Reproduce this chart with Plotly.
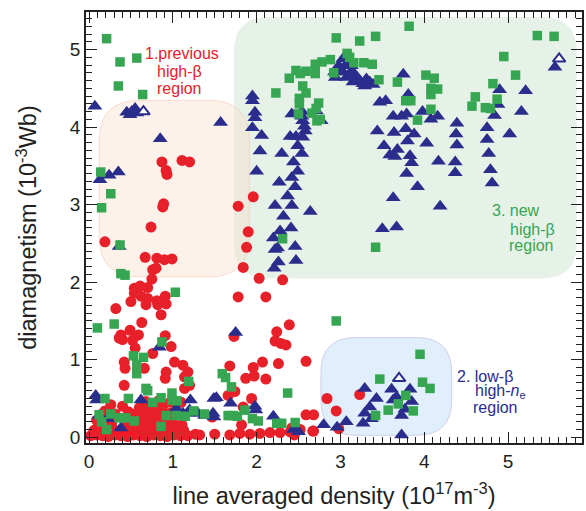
import plotly.graph_objects as go

# ---- data (line averaged density [1e17 m^-3], diamagnetism [1e-3 Wb]) ----
red_x = [0.87, 0.92, 0.93, 1.11, 1.20, 0.89, 0.88, 0.74, 0.19, 1.78, 1.96, 1.90, 1.88,
         0.67, 0.81, 0.90, 0.99, 0.80, 0.76, 0.75,
         0.54, 0.61, 0.70, 0.54, 0.50, 0.62, 0.70, 0.81, 0.91, 0.92, 0.82, 0.68,
         0.32, 0.86, 0.63, 0.49, 0.59, 0.38, 0.36, 0.52, 0.40, 0.91, 0.98, 0.76, 0.55,
         1.02, 1.12, 1.18, 1.14, 1.20, 1.14, 0.92, 0.91, 0.42, 0.43, 0.66, 0.42, 0.26, 0.40,
         1.84, 2.03, 2.31, 1.78, 2.11, 2.39, 2.24, 2.22, 2.29, 2.35, 1.73,
         2.07, 1.96, 2.26, 2.59, 1.68, 1.87, 1.97, 2.11, 1.66, 1.74, 1.94, 1.84,
         2.84, 2.95, 2.59, 2.68, 1.82, 1.47, 3.23, 2.98, 2.68,
         1.32, 1.50, 1.68, 1.80, 1.92, 2.04, 2.16, 2.28, 2.40, 2.52, 2.67, 2.45, 2.42,
         0.02, 0.09, 0.16, 0.23, 0.31, 0.38, 0.46, 0.53, 0.61, 0.69, 0.77, 0.85, 0.93, 1.01, 1.09, 1.18, 1.27,
         0.06, 0.19, 0.33, 0.48, 0.58, 0.66, 0.73, 0.81, 0.88, 0.96, 1.04, 1.13,
         0.11, 0.27, 0.44, 0.56, 0.64, 0.71, 0.79, 0.86, 0.94, 1.03, 1.11,
         0.09, 0.25, 0.51, 0.62, 0.70, 0.77, 0.84, 0.92, 1.00,
         0.31, 0.57, 0.66, 0.74, 0.82, 0.90, 0.97,
         0.60, 0.71, 0.79, 0.88, 0.68, 0.83, 0.97,
         0.19, 0.47, 1.10, 1.05]
red_y = [3.55, 3.44, 3.39, 3.57, 3.55, 3.01, 2.97, 2.71, 2.52, 2.98, 3.10, 2.65, 2.45,
         2.32, 2.31, 2.29, 2.30, 2.18, 2.16, 2.04,
         1.92, 1.95, 1.93, 1.86, 1.75, 1.82, 1.79, 1.76, 1.82, 1.72, 1.71, 1.71,
         1.66, 1.58, 1.48, 1.38, 1.32, 1.32, 1.28, 1.25, 1.26, 1.31, 1.17, 1.08, 1.15,
         0.97, 0.93, 0.84, 0.78, 0.67, 0.63, 0.84, 0.76, 0.97, 0.89, 0.89, 0.67, 0.42, 0.40,
         2.19, 2.05, 2.03, 1.81, 1.81, 1.45, 1.36, 1.24, 1.21, 1.19, 1.30,
         0.97, 0.90, 0.95, 0.98, 0.92, 0.76, 0.79, 0.75, 0.54, 0.59, 0.50, 0.39,
         0.50, 0.34, 0.29, 0.29, 0.16, 0.26, 0.55, 0.11, 0.08,
         0.03, 0.04, 0.03, 0.05, 0.04, 0.05, 0.06, 0.06, 0.07, 0.10, 0.08, 0.03, 0.12,
         0.02, 0.03, 0.02, 0.01, 0.03, 0.02, 0.01, 0.03, 0.02, 0.01, 0.03, 0.02, 0.01, 0.03, 0.02, 0.02, 0.04,
         0.09, 0.07, 0.08, 0.09, 0.07, 0.10, 0.08, 0.09, 0.07, 0.10, 0.08, 0.09,
         0.15, 0.17, 0.14, 0.16, 0.15, 0.17, 0.14, 0.16, 0.15, 0.13, 0.16,
         0.22, 0.24, 0.21, 0.23, 0.22, 0.24, 0.21, 0.23, 0.22,
         0.30, 0.31, 0.29, 0.32, 0.30, 0.28, 0.31,
         0.38, 0.39, 0.37, 0.40, 0.46, 0.47, 0.45,
         0.34, 0.33, 0.45, 0.30]

green_x = [0.21, 0.37, 0.57, 0.35, 0.64, 0.14, 0.26, 0.15, 0.37, 0.38, 0.43, 1.03, 0.10, 0.30,
           0.87, 0.53, 0.65, 0.57, 0.57, 1.19, 0.68, 0.70, 0.19, 0.47, 0.76, 0.86, 0.99, 0.99,
           1.05, 0.12, 0.26, 0.36, 0.44, 0.54, 0.15, 0.21, 0.86, 0.92, 1.04, 1.15, 1.25, 1.38,
           1.59, 1.63, 1.70, 1.66, 1.72, 1.77, 1.86, 1.95, 2.02, 2.24, 2.30, 2.37, 2.46, 2.31,
           2.95, 3.42, 3.95, 3.47, 3.98, 4.07, 3.78, 3.69, 3.57, 3.87, 3.42,
           2.95, 2.23, 2.39, 2.47, 2.52, 2.59, 2.70, 2.78, 2.88, 2.70, 2.92, 2.55, 2.59, 2.51,
           2.51, 2.74, 2.71, 2.66, 2.50, 2.72, 2.76,
           3.23, 3.42, 3.82, 3.08, 3.11, 3.16, 3.28, 3.38, 3.46, 3.68, 4.02, 4.12, 4.08, 4.16,
           4.08, 3.78, 3.84, 4.08, 3.92,
           4.95, 5.09, 4.82, 4.61, 4.57, 4.73, 4.79, 4.87, 5.35, 5.55]
green_y = [5.14, 4.84, 4.89, 4.53, 4.42, 3.42, 3.14, 2.96, 2.48, 2.11, 2.09, 1.87, 1.41, 1.46,
           1.23, 1.05, 1.03, 0.94, 0.82, 0.72, 0.63, 0.60, 0.50, 0.50, 0.45, 0.51, 0.57, 0.48,
           0.47, 0.29, 0.30, 0.25, 0.25, 0.21, 0.20, 0.10, 0.14, 0.28, 0.28, 0.27, 0.34, 0.30,
           0.82, 0.77, 0.65, 0.28, 0.28, 0.27, 0.35, 0.24, 0.21, 0.18, 0.18, 0.57, 0.19, 2.56,
           1.50, 2.45, 1.07, 0.75, 0.71, 0.63, 0.54, 0.43, 0.35, 0.34, 0.28,
           5.15, 4.44, 4.63, 4.73, 4.69, 4.72, 4.81, 4.84, 4.87, 4.69, 4.70, 4.53, 4.44, 4.37,
           4.30, 4.31, 4.24, 4.18, 4.17, 4.08, 4.10,
           5.11, 5.17, 5.30, 4.95, 4.90, 4.83, 4.83, 4.81, 4.61, 4.58, 4.67, 4.63, 4.50, 4.49,
           4.42, 4.34, 4.34, 4.23, 4.09,
           4.91, 4.67, 4.56, 4.39, 4.27, 4.25, 4.24, 4.36, 5.18, 5.17]

blue_x = [0.07, 0.45, 0.51, 0.55, 0.57, 0.49, 0.85, 1.57, 0.13, 0.24, 0.35, 0.36,
          1.95, 1.95, 1.98, 1.98, 1.95, 2.06, 2.04, 2.00, 2.30, 2.42, 2.40, 2.47, 2.55, 2.44,
          2.27, 2.42, 2.37, 2.22, 2.42, 2.32, 2.28, 2.41, 2.20, 2.25, 2.46, 2.22, 2.49, 2.54,
          2.49, 2.46, 2.64,
          2.54, 2.54, 2.55, 2.57, 2.58, 2.77, 2.71, 2.94, 2.98, 2.98,
          3.03, 3.07, 3.13, 2.99, 2.93, 3.03, 3.07, 3.13, 3.17, 3.20, 3.15, 3.23, 3.27, 3.31,
          3.35, 3.39, 3.29,
          3.75, 3.81, 3.47, 3.54, 3.63, 3.73, 3.79, 3.44, 3.64, 3.78, 3.88, 3.80, 3.52, 3.68,
          3.59, 3.65, 3.83, 3.85, 3.79, 3.92, 3.63, 3.50, 3.67,
          3.98, 4.08, 4.16, 4.03, 4.17, 4.19,
          4.39, 4.38, 4.39, 4.37, 4.37, 4.75, 4.75, 4.77, 4.79, 4.81,
          4.90, 4.88, 4.84, 5.02, 5.16, 5.21, 5.56, 2.21, 2.26, 2.47,
          1.75, 0.84, 0.08, 0.09, 0.38, 0.62, 1.21, 1.52, 1.69, 1.98, 1.99, 1.48, 1.49, 2.20,
          2.44, 2.50, 2.80, 2.96, 1.30, 1.12, 1.04, 1.20, 1.28, 1.38, 1.49, 0.12, 0.22,
          3.29, 3.43, 3.35, 3.29, 3.37, 3.27, 3.61, 3.67, 3.63, 3.83, 3.85, 3.77, 3.73, 3.73,
          3.07]
blue_y = [4.27, 4.19, 4.20, 4.24, 4.18, 4.16, 3.85, 4.06, 3.32, 3.38, 3.42, 2.46,
          4.40, 4.34, 4.19, 4.12, 3.99, 3.89, 3.69, 3.43, 3.66, 4.17, 3.88, 3.88, 3.87, 3.55,
          3.29, 3.35, 3.11, 2.99, 2.99, 2.85, 2.66, 2.70, 2.57, 2.44, 2.46, 2.42, 3.76, 3.66,
          3.43, 3.23, 2.91,
          4.20, 4.14, 4.08, 4.01, 3.95, 4.08, 4.21, 4.64, 4.72, 4.79,
          4.88, 4.81, 4.79, 4.75, 4.71, 4.71, 4.64, 4.72, 4.68, 4.64, 4.58, 4.60, 4.56, 4.62,
          4.58, 4.55, 4.53,
          4.68, 4.42, 4.32, 4.34, 4.14, 4.14, 4.17, 3.95, 3.93, 3.98, 3.91, 3.82, 3.76, 3.71,
          3.64, 3.62, 3.63, 3.54, 3.40, 3.23, 3.09, 2.69, 2.71,
          4.20, 4.10, 4.14, 3.79, 3.56, 2.98,
          4.05, 3.91, 3.77, 3.55, 3.41, 3.99, 3.84, 3.66, 3.45, 3.28,
          4.48, 4.29, 4.15, 3.91, 4.20, 4.47, 4.77, 2.18, 2.26, 2.28,
          1.35, 1.16, 0.54, 0.48, 0.12, 0.48, 0.48, 0.51, 0.44, 0.40, 0.35, 0.31, 0.26, 0.27,
          0.10, 0.07, 0.16, 0.13, 0.31, 0.31, 0.37, 0.35, 0.31, 0.28, 0.50, 0.28, 0.24,
          0.63, 0.50, 0.39, 0.31, 0.24, 0.18, 0.62, 0.52, 0.48, 0.62, 0.46, 0.36, 0.28, 0.03,
          0.20]

open_x = [0.65, 5.61, 3.70]
open_y = [4.20, 4.88, 0.76]

x_ticks = [0, 1, 2, 3, 4, 5]
y_ticks = [0, 1, 2, 3, 4, 5]

RED = "#e8202a"
GREEN = "#37a653"
BLUE = "#2a2d8c"
FONT = "Liberation Sans, Arial, sans-serif"
AX = "#231f20"

fig = go.Figure()
fig.add_trace(go.Scatter(x=red_x, y=red_y, mode="markers",
                         marker=dict(symbol="circle", size=11, color=RED, line=dict(width=0))))
fig.add_trace(go.Scatter(x=blue_x, y=blue_y, mode="markers",
                         marker=dict(symbol="triangle-up", size=13, color=BLUE, line=dict(width=0))))
fig.add_trace(go.Scatter(x=open_x, y=open_y, mode="markers",
                         marker=dict(symbol="triangle-up", size=11, color="white",
                                     line=dict(width=2, color=BLUE))))
fig.add_trace(go.Scatter(x=green_x, y=green_y, mode="markers",
                         marker=dict(symbol="square", size=9.5, color=GREEN, line=dict(width=0))))


def rrect(x0, x1, y0, y1, rx, ry):
    return (f"M {x0+rx},{y1} L {x1-rx},{y1} Q {x1},{y1} {x1},{y1-ry} "
            f"L {x1},{y0+ry} Q {x1},{y0} {x1-rx},{y0} L {x0+rx},{y0} "
            f"Q {x0},{y0} {x0},{y0+ry} L {x0},{y1-ry} Q {x0},{y1} {x0+rx},{y1} Z")


shapes = [
    dict(type="path", path=rrect(1.730, 5.820, 2.048, 5.419, 0.42, 0.45), layer="below",
         fillcolor="rgba(195,225,200,0.42)", line=dict(width=0)),
    dict(type="path", path=rrect(0.123, 1.913, 2.068, 4.345, 0.48, 0.52), layer="below",
         fillcolor="rgba(250,222,198,0.38)", line=dict(width=1, color="rgba(245,200,185,0.6)")),
    dict(type="path", path=rrect(2.768, 4.328, 0.026, 1.286, 0.42, 0.45), layer="below",
         fillcolor="rgba(182,217,245,0.42)", line=dict(width=1, color="rgba(200,195,230,0.8)")),
]

ann = []
def label(text, x, y, color):
    ann.append(dict(text=text, x=x, y=y, xref="x", yref="y", showarrow=False,
                    font=dict(family=FONT, size=16, color=color), xanchor="center", yanchor="middle"))

label("1.previous", 1.104, 4.955, RED)
label("high-β", 1.080, 4.723, RED)
label("region", 1.068, 4.503, RED)
label("3. new", 5.095, 2.92, GREEN)
label("high-β", 5.292, 2.684, GREEN)
label("region", 5.271, 2.477, GREEN)
label("2. low-β", 4.722, 0.787, BLUE)
label("high-<i>n</i><sub>e</sub>", 4.916, 0.590, BLUE)
label("region", 4.845, 0.383, BLUE)

axis_common = dict(showline=True, linewidth=1.8, linecolor=AX, mirror="allticks",
                   ticks="inside", ticklen=11, tickwidth=1.3, tickcolor=AX,
                   showgrid=False, zeroline=False, automargin=False,
                   tickfont=dict(family=FONT, size=19, color=AX),
                   minor=dict(dtick=0.1, ticks="inside", ticklen=6, tickwidth=1, tickcolor=AX))

fig.update_layout(
    width=586, height=511,
    margin=dict(l=86, r=4, t=12, b=68),
    paper_bgcolor="white", plot_bgcolor="white",
    showlegend=False,
    shapes=shapes, annotations=ann,
    xaxis=dict(range=[-0.036, 5.883], tickvals=x_ticks, **axis_common,
               title=dict(text="line averaged density (10<sup>17</sup>m<sup>-3</sup>)",
                          font=dict(family=FONT, size=23.5, color=AX), standoff=17)),
    yaxis=dict(range=[-0.074, 5.484], tickvals=y_ticks, **axis_common,
               title=dict(text="diamagnetism (10<sup>-3</sup>Wb)",
                          font=dict(family=FONT, size=23.5, color=AX), standoff=26)),
)

fig.write_html("out.html", config={"displayModeBar": False},
               post_script="document.body.style.margin='0';document.body.style.overflow='hidden';")
